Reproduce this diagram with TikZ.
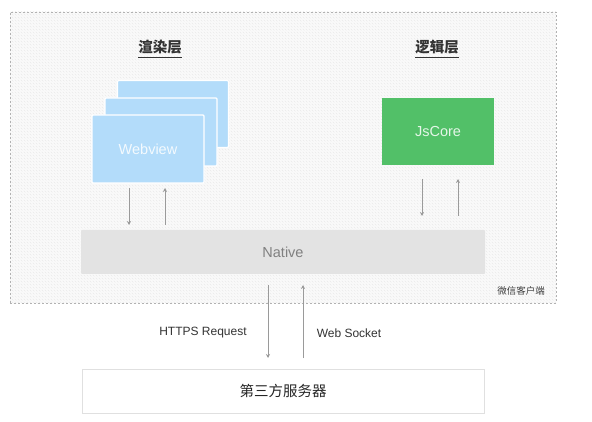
\documentclass[tikz,border=0pt]{standalone}
\usepackage{fontspec}
\setmainfont{Liberation Sans}
\newfontfamily\cjk{Noto Sans CJK SC}
\usetikzlibrary{arrows.meta,patterns}
\definecolor{cardblue}{HTML}{B3DCFA}
\definecolor{jsgreen}{HTML}{52C068}
\definecolor{nativegray}{HTML}{E3E3E3}
\definecolor{arrowgray}{HTML}{9A9A9A}
\definecolor{titletext}{HTML}{333333}
\tikzset{
  px/.style={x=1pt,y=-1pt},
  card/.style={draw=white,line width=1.2pt,fill=cardblue,rounded corners=1pt},
  layertitle/.style={font=\cjk\fontsize{14.5}{16}\selectfont\bfseries,text=titletext},
  link/.style={draw=arrowgray,line width=0.8pt,-{Stealth[length=4pt,width=4pt]}},
  lbl/.style={font=\fontsize{12}{14}\selectfont,text=black!80},
}
\begin{document}
\begin{tikzpicture}[px]
\useasboundingbox (0,0) rectangle (592,422);
\fill[white] (0,0) rectangle (592,422);
% client frame
\fill[black!2] (10,12) rectangle (556,303);
\node[draw=black!30,dashed,dash pattern=on 2pt off 2pt,pattern=north west lines,pattern color=black!8,
  minimum width=546pt,minimum height=291pt,inner sep=0pt] (client) at (283,157.5) {};
\node[anchor=south east,font=\cjk\fontsize{9.5}{11}\selectfont,text=black!75,inner sep=0pt] (clientlbl) at (545,296) {微信客户端};
% titles
\node[layertitle,inner sep=1pt] (rtitle) at (160,47) {渲染层};
\draw[titletext,line width=0.8pt] ([xshift=1pt,yshift=-2pt]rtitle.south west) -- ([xshift=-1pt,yshift=-2pt]rtitle.south east);
\node[layertitle,inner sep=1pt] (ltitle) at (437,47) {逻辑层};
\draw[titletext,line width=0.8pt] ([xshift=1pt,yshift=-2pt]ltitle.south west) -- ([xshift=-1pt,yshift=-2pt]ltitle.south east);
% webview stack
\node[card,minimum width=111pt,minimum height=67pt,inner sep=0pt] (card3) at (173,114) {};
\node[card,minimum width=112pt,minimum height=68pt,inner sep=0pt] (card2) at (161,132) {};
\node[card,minimum width=112pt,minimum height=68pt,inner sep=0pt,text=white!85!cardblue,font=\fontsize{14.5}{16}\selectfont] (webview) at (148,149) {Webview};
% jscore
\node[fill=jsgreen,minimum width=112pt,minimum height=67pt,inner sep=0pt,text=white!85!jsgreen,font=\fontsize{14.5}{16}\selectfont] (jscore) at (438,131.5) {JsCore};
% native
\node[fill=nativegray,rounded corners=1pt,minimum width=404pt,minimum height=44pt,inner sep=0pt,text=black!50,font=\fontsize{14.5}{16}\selectfont] (native) at (283,252) {Native};
% server
\node[draw=black!12,fill=white,minimum width=402pt,minimum height=44pt,inner sep=0pt,font=\cjk\fontsize{14.5}{16}\selectfont,text=black!85] (server) at (283,391) {第三方服务器};
% connector coordinates
\coordinate (wd1) at (129,188); \coordinate (wd2) at (129,225);
\coordinate (wu1) at (165,225); \coordinate (wu2) at (165,188);
\coordinate (jd1) at (422,179); \coordinate (jd2) at (422,216);
\coordinate (ju1) at (458,216); \coordinate (ju2) at (458,179);
\coordinate (sd1) at (268,285); \coordinate (sd2) at (268,358);
\coordinate (su1) at (303,358); \coordinate (su2) at (303,285);
\draw[link] (wd1) -- (wd2);
\draw[link] (wu1) -- (wu2);
\draw[link] (jd1) -- (jd2);
\draw[link] (ju1) -- (ju2);
\draw[link] (sd1) -- (sd2);
\draw[link] (su1) -- (su2);
\node[lbl] (https) at (203,333) {HTTPS Request};
\node[lbl] (ws) at (349,333) {Web Socket};
\end{tikzpicture}
\end{document}
